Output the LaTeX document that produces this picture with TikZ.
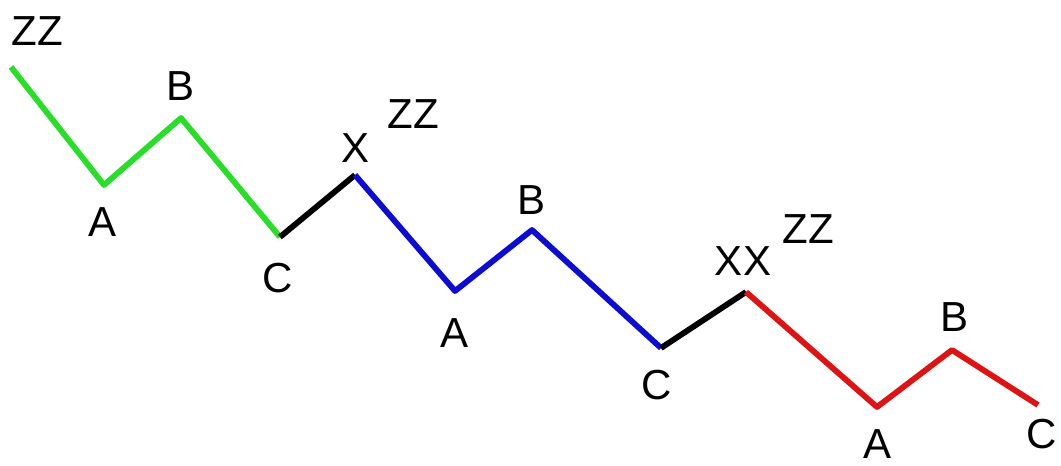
\documentclass[tikz,border=0pt]{standalone}
\usepackage{tikz}
\usepackage{fontspec}
\setmainfont{Liberation Sans}
\definecolor{wave1}{RGB}{40,222,40}
\definecolor{wave2}{RGB}{12,12,210}
\definecolor{wave3}{RGB}{222,20,20}
\definecolor{link}{RGB}{0,0,0}

\begin{document}
\begin{tikzpicture}[
    x=0.5pt, y=-0.5pt,
    leg/.style = {line width=2.9pt, line join=round},
    lbl/.style = {inner sep=0pt, font=\fontsize{21}{25}\selectfont}
    ]
    \useasboundingbox (0,0) rectangle (1061,466);
    % turning points
    \coordinate (z1) at (11,67);
    \coordinate (a1) at (104,185);
    \coordinate (b1) at (181,118);
    \coordinate (c1) at (280,237);
    \coordinate (x1) at (355,175);
    \coordinate (a2) at (455,291);
    \coordinate (b2) at (532,230);
    \coordinate (c2) at (661,348);
    \coordinate (xx) at (746,292);
    \coordinate (a3) at (877,407);
    \coordinate (b3) at (952,350);
    \coordinate (c3) at (1038,405);
    % legs
    \draw[leg, wave1] (z1) -- (a1) -- (b1) -- (c1);
    \draw[leg, link] (c1) -- (x1);
    \draw[leg, wave2] (x1) -- (a2) -- (b2) -- (c2);
    \draw[leg, link] (c2) -- (xx);
    \draw[leg, wave3] (xx) -- (a3) -- (b3) -- (c3);
    % labels
    \node[lbl] (zz1) at (37,31) {ZZ};
    \node[lbl] (lb1) at (181,86) {B};
    \node[lbl] (la1) at (103,222) {A};
    \node[lbl] (lc1) at (278,278) {C};
    \node[lbl] (lx1) at (356,148) {X};
    \node[lbl] (zz2) at (413,114) {ZZ};
    \node[lbl] (lb2) at (532,200) {B};
    \node[lbl] (la2) at (455,333) {A};
    \node[lbl] (lc2) at (657,385) {C};
    \node[lbl] (lxx) at (743,261) {XX};
    \node[lbl] (zz3) at (808,229) {ZZ};
    \node[lbl] (lb3) at (954,317) {B};
    \node[lbl] (la3) at (877,444) {A};
    \node[lbl] (lc3) at (1042,434) {C};
\end{tikzpicture}
\end{document}
